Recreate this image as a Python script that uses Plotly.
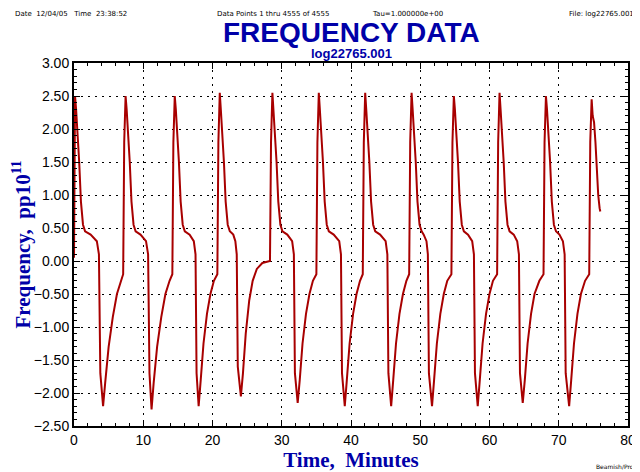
import plotly.graph_objects as go

# keypoints, one list per cycle
c1_t = [0.0, 0.05, 0.15, 0.3, 0.5, 0.75, 1.0, 1.3, 1.6, 2.4, 3.3, 3.6, 3.8, 4.2, 4.5, 5.0, 5.6, 6.2, 6.8, 7.1]
c1_y = [0.05, 1.8, 2.5, 2.3, 2.0, 1.5, 0.9, 0.55, 0.45, 0.4, 0.3, 0.1, -1.7, -2.2, -1.85, -1.3, -0.85, -0.5, -0.3, -0.2]
c2_t = [7.25, 7.45, 7.6, 7.8, 8.05, 8.3, 8.6, 8.9, 9.6, 10.4, 10.7, 10.9, 11.2, 11.5, 12.0, 12.6, 13.2, 13.8, 14.2]
c2_y = [1.8, 2.5, 2.3, 2.0, 1.5, 0.9, 0.55, 0.45, 0.4, 0.3, 0.1, -1.7, -2.25, -1.85, -1.3, -0.85, -0.5, -0.3, -0.2]
c3_t = [14.35, 14.55, 14.7, 14.9, 15.15, 15.4, 15.7, 16.0, 16.7, 17.3, 17.55, 17.7, 18.0, 18.3, 18.7, 19.2, 19.7, 20.2, 20.7]
c3_y = [1.8, 2.5, 2.3, 2.0, 1.5, 0.9, 0.55, 0.45, 0.4, 0.3, 0.1, -1.7, -2.2, -1.8, -1.25, -0.8, -0.5, -0.3, -0.2]
c4_t = [20.85, 21.05, 21.2, 21.4, 21.65, 21.9, 22.2, 22.5, 23.0, 23.3, 23.5, 23.65, 24.1, 24.4, 24.8, 25.3, 25.8, 26.4, 27.2, 28.3]
c4_y = [1.8, 2.55, 2.3, 2.0, 1.5, 0.9, 0.55, 0.45, 0.4, 0.3, 0.1, -1.6, -2.05, -1.7, -1.1, -0.6, -0.3, -0.12, -0.03, 0.0]
c5_t = [28.45, 28.65, 28.8, 29.0, 29.25, 29.5, 29.8, 30.1, 30.8, 31.5, 31.75, 31.9, 32.3, 32.6, 33.0, 33.5, 34.0, 34.5, 35.0]
c5_y = [1.8, 2.55, 2.3, 2.0, 1.5, 0.9, 0.55, 0.45, 0.4, 0.3, 0.1, -1.7, -2.15, -1.8, -1.25, -0.8, -0.5, -0.3, -0.2]
c6_t = [35.15, 35.35, 35.5, 35.7, 35.95, 36.2, 36.5, 36.8, 37.5, 38.3, 38.55, 38.7, 39.1, 39.4, 39.8, 40.3, 40.8, 41.3, 41.7]
c6_y = [1.8, 2.55, 2.3, 2.0, 1.5, 0.9, 0.55, 0.45, 0.4, 0.3, 0.1, -1.7, -2.2, -1.8, -1.25, -0.8, -0.5, -0.3, -0.2]
c7_t = [41.85, 42.05, 42.2, 42.4, 42.65, 42.9, 43.2, 43.5, 44.2, 45.0, 45.25, 45.4, 45.8, 46.1, 46.5, 47.0, 47.5, 48.0, 48.4]
c7_y = [1.8, 2.55, 2.3, 2.0, 1.5, 0.9, 0.55, 0.45, 0.4, 0.3, 0.1, -1.7, -2.2, -1.8, -1.25, -0.8, -0.5, -0.3, -0.2]
c8_t = [48.55, 48.75, 48.9, 49.1, 49.35, 49.6, 49.9, 50.2, 50.5, 50.9, 51.1, 51.25, 51.7, 52.0, 52.4, 52.9, 53.4, 53.9, 54.5]
c8_y = [1.8, 2.55, 2.3, 2.0, 1.5, 0.9, 0.55, 0.45, 0.4, 0.3, 0.1, -1.7, -2.2, -1.8, -1.25, -0.8, -0.5, -0.3, -0.2]
c9_t = [54.65, 54.85, 55.0, 55.2, 55.45, 55.7, 56.0, 56.3, 56.9, 57.5, 57.75, 57.9, 58.3, 58.6, 59.0, 59.5, 60.0, 60.5, 61.1]
c9_y = [1.8, 2.5, 2.3, 2.0, 1.5, 0.9, 0.55, 0.45, 0.4, 0.3, 0.1, -1.7, -2.2, -1.8, -1.25, -0.8, -0.5, -0.3, -0.2]
c10_t = [61.25, 61.45, 61.6, 61.8, 62.05, 62.3, 62.6, 62.9, 63.5, 64.0, 64.25, 64.4, 64.8, 65.1, 65.5, 66.0, 66.5, 67.2, 67.8]
c10_y = [1.8, 2.55, 2.3, 2.0, 1.5, 0.9, 0.55, 0.45, 0.4, 0.3, 0.1, -1.7, -2.15, -1.8, -1.25, -0.8, -0.5, -0.3, -0.2]
c11_t = [67.95, 68.15, 68.3, 68.5, 68.75, 69.0, 69.3, 69.6, 70.1, 70.6, 70.85, 71.0, 71.5, 71.8, 72.2, 72.7, 73.2, 73.8, 74.4]
c11_y = [1.8, 2.5, 2.3, 2.0, 1.5, 0.9, 0.55, 0.45, 0.4, 0.3, 0.1, -1.7, -2.2, -1.8, -1.25, -0.8, -0.5, -0.3, -0.2]
c12_t = [74.55, 74.75, 74.9, 75.1, 75.3, 75.5, 75.7, 75.9, 76.0]
c12_y = [1.8, 2.45, 2.2, 2.1, 1.8, 1.3, 1.0, 0.8, 0.75]

times = c1_t + c2_t + c3_t + c4_t + c5_t + c6_t + c7_t + c8_t + c9_t + c10_t + c11_t + c12_t
freq = c1_y + c2_y + c3_y + c4_y + c5_y + c6_y + c7_y + c8_y + c9_y + c10_y + c11_y + c12_y

BLUE = "#0000A8"
RED = "#A80000"

fig = go.Figure(go.Scatter(x=times, y=freq, mode="lines", line=dict(color=RED, width=2)))

axis_common = dict(
    showline=True, linecolor="black", linewidth=2, mirror="allticks", automargin=False,
    showgrid=True, gridcolor="black", griddash="2px,5px", gridwidth=1,
    ticks="inside", ticklen=6, tickcolor="black", zeroline=False,
    tickfont=dict(family="Liberation Sans, Arial", size=14, color="black"),
)
fig.update_xaxes(
    range=[0, 80], dtick=10,
    minor=dict(dtick=2, ticks="inside", ticklen=3, tickcolor="black"),
    title=dict(text="<b>Time,  Minutes</b>", standoff=2,
               font=dict(family="Liberation Serif, Times New Roman", size=21, color=BLUE)),
    **axis_common,
)
fig.update_yaxes(
    range=[-2.5, 3.0], dtick=0.5, tickformat=".2f",
    minor=dict(dtick=0.1, ticks="inside", ticklen=3, tickcolor="black"),
    title=dict(text="<b>Frequency,  pp10<sup>11</sup></b>", standoff=4,
               font=dict(family="Liberation Serif, Times New Roman", size=21, color=BLUE)),
    **axis_common,
)

small = dict(family="DejaVu Sans, sans-serif", size=7, color="black")
fig.update_layout(
    width=632, height=472,
    paper_bgcolor="white", plot_bgcolor="white",
    margin=dict(l=66, r=12, t=55, b=54),
    showlegend=False,
    annotations=[
        dict(text="<b>FREQUENCY DATA</b>", x=0.5, y=1.0, xref="paper", yref="paper",
             yshift=31, yanchor="middle", showarrow=False,
             font=dict(family="Liberation Sans, Arial", size=28, color=BLUE)),
        dict(text="<b>log22765.001</b>", x=0.5, y=1.0, xref="paper", yref="paper",
             yshift=10, yanchor="middle", showarrow=False,
             font=dict(family="Liberation Sans, Arial", size=13, color=BLUE)),
        dict(text="Date  12/04/05   Time  23:38:52", x=-0.11, y=1.0, xref="paper", yref="paper",
             yshift=49, xanchor="left", yanchor="middle", showarrow=False, font=small),
        dict(text="Data Points 1 thru 4555 of 4555", x=0.36, y=1.0, xref="paper", yref="paper",
             yshift=49, yanchor="middle", showarrow=False, font=small),
        dict(text="Tau=1.000000e+00", x=0.67, y=1.0, xref="paper", yref="paper",
             yshift=49, yanchor="middle", showarrow=False, font=small),
        dict(text="File: log22765.001", x=1.015, y=1.0, xref="paper", yref="paper",
             yshift=49, xanchor="right", yanchor="middle", showarrow=False, font=small),
        dict(text="Beamish/Pro", x=1.015, y=0.0, xref="paper", yref="paper",
             yshift=-40, xanchor="right", yanchor="middle", showarrow=False,
             font=dict(family="DejaVu Sans, sans-serif", size=6, color="black")),
    ],
)

fig.write_html("out.html")
